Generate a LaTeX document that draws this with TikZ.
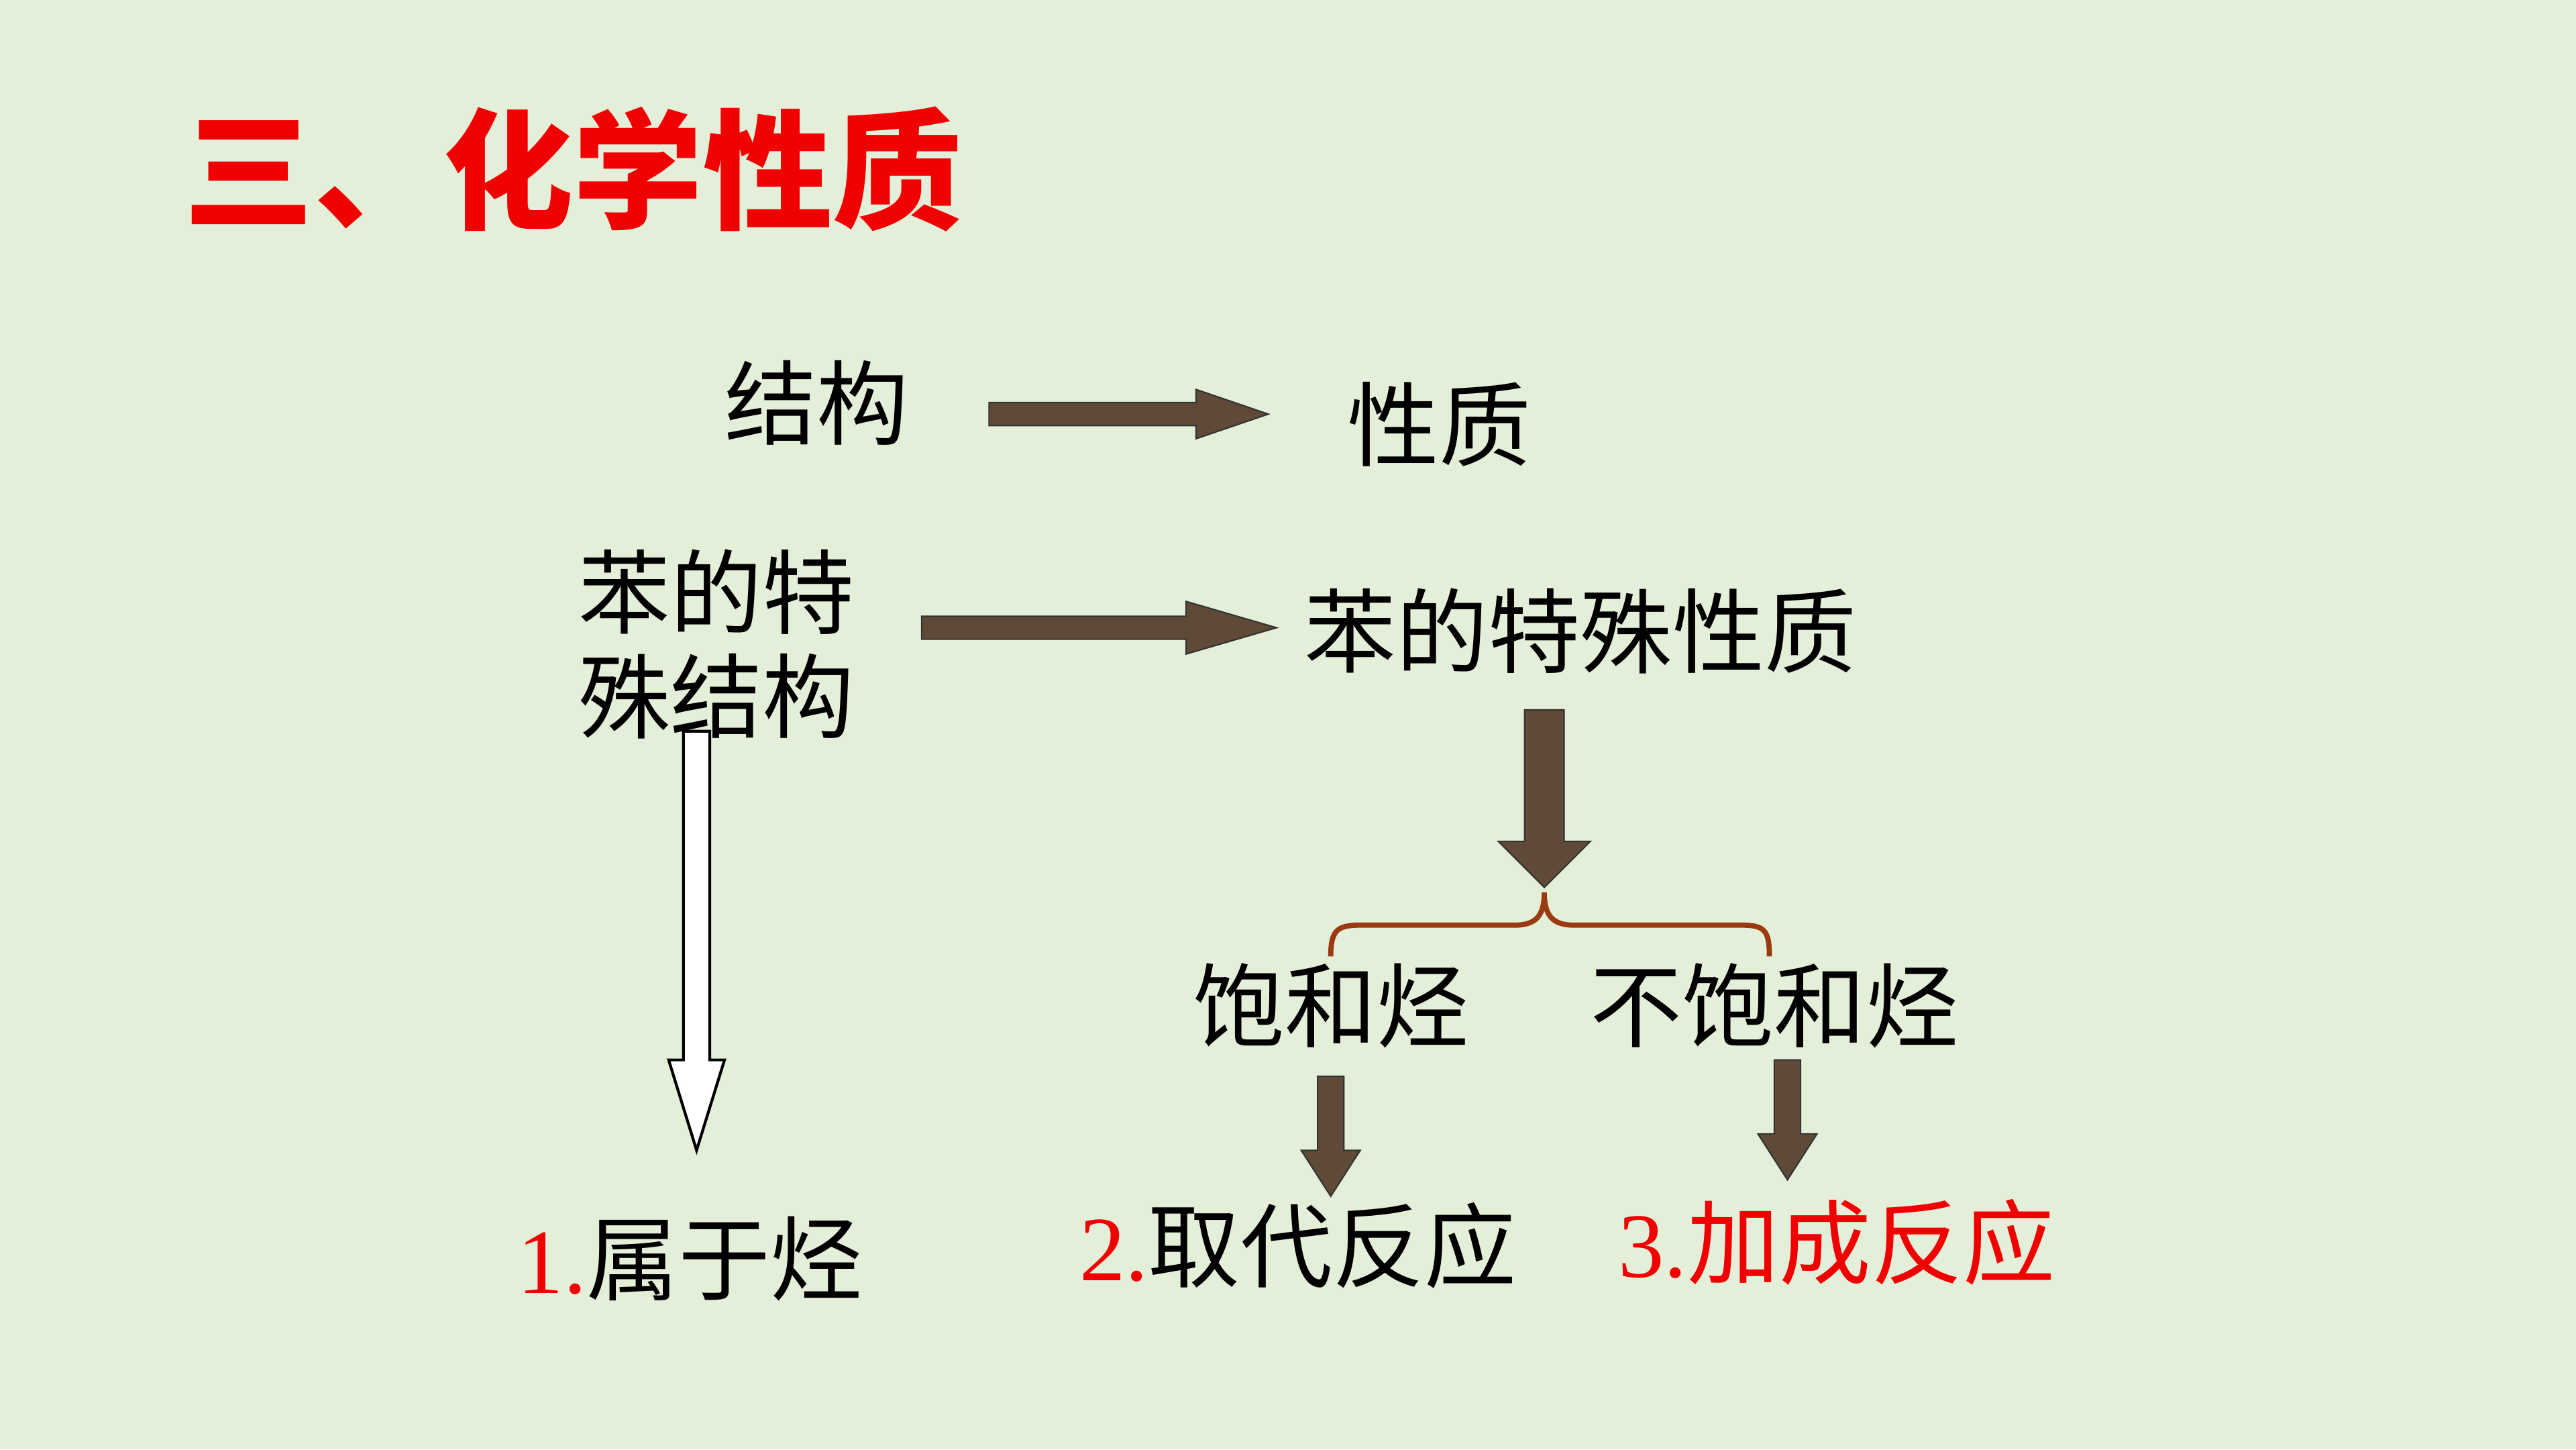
\documentclass[tikz,border=0pt]{standalone}
\usepackage{fontspec}
\setmainfont{Liberation Serif}
\newfontfamily\cjk{Noto Sans CJK SC}
\definecolor{bg}{HTML}{E3EFD8}
\definecolor{brn}{HTML}{5E4A36}
\definecolor{brc}{HTML}{9A3A10}
\definecolor{rd}{HTML}{F00000}
\begin{document}
\begin{tikzpicture}[x=0.02449cm,y=-0.02449cm,
  txt/.style={font=\fontsize{39}{44}\selectfont\cjk, inner sep=0pt, align=center},
  farrow/.style={fill=brn, draw=black!80, line width=0.6pt},
  harrow/.style={fill=white, draw=black, line width=1.2pt}]
\fill[bg] (0,0) rectangle (1568,882);
\node[font=\fontsize{55}{60}\selectfont\cjk\bfseries, text=rd, inner sep=0pt, anchor=west] (title) at (112,103) {三、化学性质};
\node[txt] (jg) at (497,245) {结构};
\node[txt] (xz) at (876,258) {性质};
\node[txt, anchor=west] (bjg) at (352,392) {苯的特\\殊结构};
\node[txt] (bxz) at (962,384) {苯的特殊性质};
\node[txt] (bhh) at (810,612) {饱和烃};
\node[txt] (bbh) at (1080,612) {不饱和烃};
\node[txt] (r1) at (420,766) {\textcolor{rd}{\fontspec{Liberation Serif}1.}属于烃};
\node[txt] (r2) at (790,758) {\textcolor{rd}{\fontspec{Liberation Serif}2.}取代反应};
\node[txt, text=rd] (r3) at (1118,756) {{\fontspec{Liberation Serif}3.}加成反应};
% horizontal arrows
\draw[farrow] (602,245)--(728,245)--(728,237)--(772,252)--(728,267)--(728,259)--(602,259)--cycle;
\draw[farrow] (561,375)--(722,375)--(722,366)--(777,382)--(722,398)--(722,389)--(561,389)--cycle;
% big down arrow
\draw[farrow] (928,432)--(952,432)--(952,512)--(968,512)--(940,540)--(912,512)--(928,512)--cycle;
% small down arrows
\draw[farrow] (802,655)--(818,655)--(818,700)--(828,700)--(810,728)--(792,700)--(802,700)--cycle;
\draw[farrow] (1080,645)--(1096,645)--(1096,690)--(1106,690)--(1088,718)--(1070,690)--(1080,690)--cycle;
% hollow arrow
\draw[harrow] (416,445)--(432,445)--(432,645)--(441,645)--(424,700)--(407,645)--(416,645)--cycle;
% brace
\draw[brc, line width=2.2pt] (810,582) .. controls (810,566) and (814,563) .. (828,563) -- (922,563) .. controls (936,563) and (940,556) .. (940,543) .. controls (940,556) and (944,563) .. (958,563) -- (1060,563) .. controls (1074,563) and (1077,566) .. (1077,582);
\end{tikzpicture}
\end{document}
